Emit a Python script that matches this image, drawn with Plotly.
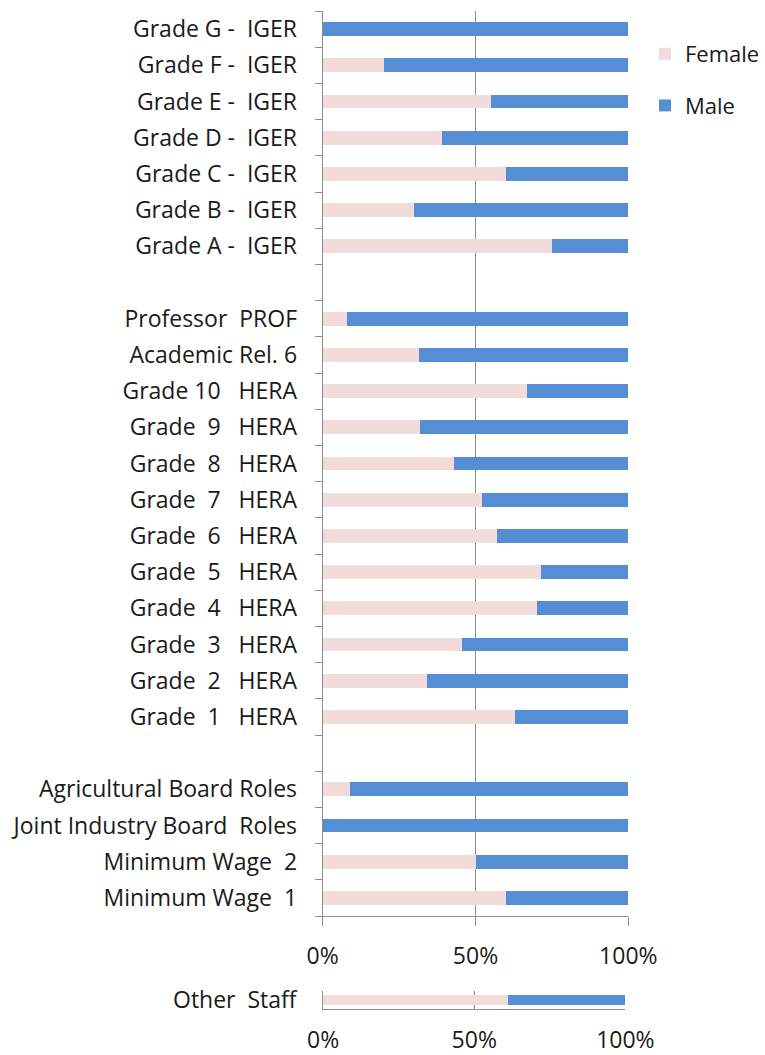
import plotly.graph_objects as go

NB = "\u00a0"

def sp(s):
    return s.replace(" ", NB)

# Categories top -> bottom (blank rows are gaps between groups)
categories = [
    "Grade G -  IGER", "Grade F -  IGER", "Grade E -  IGER", "Grade D -  IGER",
    "Grade C -  IGER", "Grade B -  IGER", "Grade A -  IGER",
    "gap1",
    "Professor  PROF", "Academic Rel. 6", "Grade 10   HERA", "Grade  9   HERA",
    "Grade  8   HERA", "Grade  7   HERA", "Grade  6   HERA", "Grade  5   HERA",
    "Grade  4   HERA", "Grade  3   HERA", "Grade  2   HERA", "Grade  1   HERA",
    "gap2",
    "Agricultural Board Roles", "Joint Industry Board  Roles",
    "Minimum Wage  2", "Minimum Wage  1",
]
female = [0, 20, 55, 39, 60, 30, 75,
          None,
          8, 31.5, 67, 32, 43, 52, 57, 71.5, 70, 45.5, 34, 63,
          None,
          9, 0, 50, 60]
male = [100, 80, 45, 61, 40, 70, 25,
        None,
        92, 68.5, 33, 68, 57, 48, 43, 28.5, 30, 54.5, 66, 37,
        None,
        91, 100, 50, 40]

other_category = ["Other  Staff"]
other_female = [61]
other_male = [39]

x_ticks = [0, 50, 100]
x_tick_labels = ["0%", "50%", "100%"]

FEMALE_COLOR = "#F2DCDB"
MALE_COLOR = "#558ED5"
AXIS_COLOR = "#8C8C8C"
TEXT_COLOR = "#1A1A1A"
FONT = "Open Sans"
FS = 23

W, H = 765, 1055

cat_ids = [c for c in categories]
cat_text = ["" if c.startswith("gap") else sp(c) for c in categories]

fig = go.Figure()
fig.add_trace(go.Bar(y=cat_ids, x=female, name="Female", orientation="h",
                     marker=dict(color=FEMALE_COLOR, line=dict(width=0)),
                     width=0.38, xaxis="x", yaxis="y", legendgroup="f"))
fig.add_trace(go.Bar(y=cat_ids, x=male, name="Male", orientation="h",
                     marker=dict(color=MALE_COLOR, line=dict(width=0)),
                     width=0.38, xaxis="x", yaxis="y", legendgroup="m"))
fig.add_trace(go.Bar(y=other_category, x=other_female, name="Female", orientation="h",
                     marker=dict(color=FEMALE_COLOR, line=dict(width=0)),
                     width=0.6, xaxis="x2", yaxis="y2", showlegend=False))
fig.add_trace(go.Bar(y=other_category, x=other_male, name="Male", orientation="h",
                     marker=dict(color=MALE_COLOR, line=dict(width=0)),
                     width=0.6, xaxis="x2", yaxis="y2", showlegend=False))

def px_x(p):
    return p / W

def px_y(p):
    return 1 - p / H

axis_font = dict(family=FONT, size=FS, color=TEXT_COLOR)

fig.update_layout(
    width=W, height=H,
    margin=dict(l=0, r=0, t=0, b=0),
    paper_bgcolor="white", plot_bgcolor="white",
    barmode="stack",
    font=dict(family=FONT, size=FS, color=TEXT_COLOR),
    showlegend=True,
    legend=dict(x=px_x(647), y=px_y(33), xanchor="left", yanchor="top",
                font=dict(family=FONT, size=22, color=TEXT_COLOR),
                tracegroupgap=20, traceorder="grouped",
                bgcolor="rgba(0,0,0,0)"),
    xaxis=dict(domain=[px_x(323.5), px_x(630)], range=[0, 100],
               tickvals=x_ticks, ticktext=x_tick_labels,
               showgrid=True, gridcolor=AXIS_COLOR, gridwidth=1,
               showline=True, linecolor=AXIS_COLOR, linewidth=1,
               ticks="outside", ticklen=9, tickcolor=AXIS_COLOR,
               ticklabelstandoff=10,
               zeroline=False, anchor="y", automargin=False,
               tickfont=axis_font, fixedrange=True),
    yaxis=dict(domain=[px_y(916), px_y(11)], type="category",
               categoryorder="array", categoryarray=cat_ids,
               tickvals=cat_ids, ticktext=cat_text,
               range=[len(cat_ids) - 0.5, -0.5],
               tickson="boundaries", ticks="outside", ticklen=7,
               tickcolor=AXIS_COLOR, showline=True, linecolor=AXIS_COLOR,
               linewidth=1, showgrid=False, zeroline=False,
               ticklabelstandoff=20, anchor="x", automargin=False,
               tickfont=axis_font, fixedrange=True),
    xaxis2=dict(domain=[px_x(324), px_x(627)], range=[0, 100],
                tickvals=x_ticks, ticktext=x_tick_labels,
                showgrid=True, gridcolor=AXIS_COLOR, gridwidth=1,
                showline=True, linecolor=AXIS_COLOR, linewidth=1,
                ticks="", ticklabelstandoff=10,
                zeroline=False, anchor="y2", automargin=False,
                tickfont=axis_font, fixedrange=True),
    yaxis2=dict(domain=[px_y(1009), px_y(991)], type="category",
                ticktext=[sp(c) for c in other_category], tickvals=other_category,
                showline=True, linecolor=AXIS_COLOR, linewidth=1,
                ticks="", showgrid=False, zeroline=False,
                ticklabelstandoff=21, anchor="x2", automargin=False,
                tickfont=axis_font, fixedrange=True),
)

fig.write_html(
    "out.html",
    config={"displayModeBar": False, "staticPlot": True},
    post_script="document.body.style.margin='0px';"
                "document.documentElement.style.overflow='hidden';",
)
